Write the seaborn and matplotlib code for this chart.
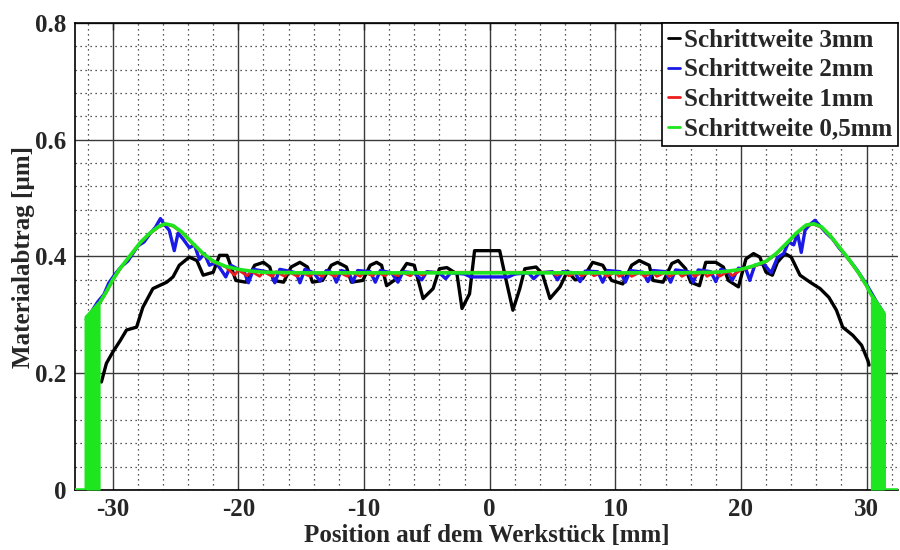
import numpy as np
import pandas as pd
import matplotlib
matplotlib.use("Agg")
import matplotlib.pyplot as plt
from matplotlib.ticker import MultipleLocator, FuncFormatter
import seaborn as sns

# Materialabtrag entlang des Werkstücks für vier Schrittweiten
labels = ["Schrittweite 3mm", "Schrittweite 2mm", "Schrittweite 1mm", "Schrittweite 0,5mm"]
colors = ["#000000", "#1a1ae6", "#ee1c1c", "#1ee61e"]

x_3mm = [-30.9, -30.5, -30.0, -29.4, -28.9, -28.1, -27.6, -26.8, -25.7, -25.2, -24.7, -23.9,
         -23.3, -22.8, -22.0, -21.5, -20.9, -20.2, -19.4, -18.7, -18.0, -17.5, -17.2, -16.4,
         -15.8, -15.1, -14.5, -14.1, -13.3, -12.6, -12.1, -11.4, -11.0, -10.1, -9.5, -9.0,
         -8.6, -8.2, -7.4, -6.6, -6.0, -5.3, -4.5, -4.0, -3.4, -2.6, -2.2, -1.6, -1.2,
         0.8, 1.2, 1.85, 2.4, 2.8, 3.7, 4.2, 4.8, 5.6, 6.2, 6.8, 7.4, 8.2, 9.0, 9.7, 10.6,
         11.3, 11.9, 12.7, 13.0, 13.8, 14.5, 15.0, 15.6, 16.0, 16.7, 17.2, 18.0, 18.6, 19.0,
         19.8, 20.4, 21.0, 21.5, 22.0, 22.5, 22.9, 23.5, 24.0, 24.7, 25.5, 26.3, 27.0, 27.6,
         28.1, 28.9, 29.6, 30.1, 30.2]
y_3mm = [0.185, 0.217, 0.236, 0.256, 0.274, 0.279, 0.313, 0.345, 0.356, 0.365, 0.385, 0.399,
         0.393, 0.368, 0.373, 0.402, 0.402, 0.359, 0.356, 0.385, 0.390, 0.382, 0.359, 0.356,
         0.382, 0.390, 0.382, 0.356, 0.359, 0.385, 0.390, 0.382, 0.356, 0.359, 0.385, 0.390,
         0.385, 0.350, 0.362, 0.388, 0.385, 0.328, 0.345, 0.379, 0.381, 0.370, 0.311, 0.336, 0.410,
         0.410, 0.370, 0.308, 0.345, 0.379, 0.382, 0.370, 0.328, 0.348, 0.375, 0.360, 0.362,
         0.390, 0.385, 0.359, 0.353, 0.385, 0.393, 0.385, 0.359, 0.356, 0.388, 0.393, 0.379,
         0.356, 0.350, 0.390, 0.390, 0.382, 0.359, 0.348, 0.396, 0.405, 0.399, 0.373, 0.368,
         0.390, 0.405, 0.399, 0.368, 0.356, 0.345, 0.330, 0.308, 0.279, 0.265, 0.248, 0.222,
         0.214]

x_2mm = [-32.1, -31.7, -31.2, -30.7, -30.3, -29.8, -29.3, -28.8, -28.4, -28.0, -27.5, -27.0,
         -26.6, -26.2, -25.9, -25.5, -25.1, -24.8, -24.4, -23.9, -23.5, -23.1, -22.7, -22.3,
         -21.8, -21.3, -21.0, -20.6, -20.0, -19.5, -19.2, -18.8, -18.0, -17.4, -17.1, -16.7,
         -16.0, -15.4, -15.1, -14.7, -14.0, -13.5, -13.0, -12.5, -12.2, -11.8, -11.2, -10.9,
         -10.5, -9.5, -9.1, -8.7, -7.8, -7.3, -6.9, -6.0, -5.4, -5.0, -4.0, -3.5, -3.1, -2.0,
         -1.5, 1.5, 2.0, 3.1, 3.5, 4.0, 5.0, 5.4, 5.8, 6.8, 7.2, 7.6, 8.6, 9.0, 9.4, 10.4,
         10.8, 11.2, 12.2, 12.6, 13.0, 14.0, 14.4, 14.8, 15.8, 16.2, 16.6, 17.6, 18.0, 18.4,
         19.0, 19.3, 19.8, 20.4, 20.7, 21.1, 21.8, 22.4, 22.9, 23.4, 23.8, 24.2, 24.5, 24.8,
         25.1, 25.5, 25.9, 26.3, 26.8, 27.3, 27.8, 28.2, 28.7, 29.2, 29.6, 30.0, 30.4, 30.8,
         31.3]
y_2mm = [0.292, 0.305, 0.322, 0.335, 0.355, 0.370, 0.383, 0.392, 0.405, 0.418, 0.425, 0.440,
         0.450, 0.465, 0.455, 0.445, 0.410, 0.440, 0.430, 0.415, 0.420, 0.395, 0.405, 0.385,
         0.390, 0.375, 0.365, 0.385, 0.378, 0.372, 0.355, 0.378, 0.375, 0.372, 0.355, 0.378,
         0.375, 0.372, 0.355, 0.378, 0.372, 0.358, 0.376, 0.372, 0.356, 0.376, 0.372, 0.356,
         0.376, 0.374, 0.356, 0.376, 0.372, 0.356, 0.374, 0.372, 0.360, 0.374, 0.372, 0.362,
         0.372, 0.370, 0.365, 0.365, 0.370, 0.372, 0.362, 0.372, 0.374, 0.360, 0.374, 0.372,
         0.357, 0.375, 0.374, 0.356, 0.376, 0.374, 0.356, 0.376, 0.373, 0.357, 0.376, 0.374,
         0.356, 0.377, 0.374, 0.356, 0.377, 0.374, 0.357, 0.378, 0.374, 0.359, 0.380, 0.378,
         0.359, 0.385, 0.388, 0.372, 0.398, 0.405, 0.425, 0.420, 0.440, 0.407, 0.445, 0.455,
         0.462, 0.452, 0.440, 0.430, 0.415, 0.405, 0.392, 0.378, 0.365, 0.352, 0.337, 0.322,
         0.305]

x_1mm = [-32.1, -31.5, -31.0, -30.5, -30.0, -29.4, -28.6, -27.8, -27.0, -26.3, -25.8, -25.2,
         -24.5, -23.6, -22.8, -22.0, -21.0, -20.3, -20.0, -19.3, -19.0, -18.3, -18.0, -17.3,
         -17.0, -16.3, -16.0, -15.3, -15.0, -14.3, -14.0, -13.3, -13.0, -12.3, -12.0, -11.3,
         -11.0, -10.3, -10.0, -9.3, -9.0, -8.3, -8.0, -7.3, -7.0, -6.3, -6.0, -5.3, -5.0, 5.0,
         5.3, 6.0, 6.3, 7.0, 7.3, 8.0, 8.3, 9.0, 9.3, 10.0, 10.3, 11.0, 11.3, 12.0, 12.3, 13.0,
         13.3, 14.0, 14.3, 15.0, 15.3, 16.0, 16.3, 17.0, 17.3, 18.0, 18.3, 19.0, 19.3, 20.0,
         21.0, 22.0, 22.8, 23.6, 24.4, 25.2, 25.8, 26.4, 27.1, 27.8, 28.6, 29.4, 30.0, 30.4,
         30.9, 31.4]
y_1mm = [0.294, 0.309, 0.321, 0.339, 0.359, 0.379, 0.401, 0.423, 0.440, 0.451, 0.455, 0.452,
         0.441, 0.421, 0.404, 0.391, 0.382, 0.368, 0.377, 0.367, 0.375, 0.366, 0.374, 0.366,
         0.374, 0.366, 0.374, 0.366, 0.373, 0.366, 0.373, 0.366, 0.373, 0.366, 0.373, 0.366,
         0.373, 0.366, 0.373, 0.367, 0.373, 0.367, 0.373, 0.367, 0.373, 0.367, 0.373, 0.368,
         0.373, 0.373, 0.368, 0.373, 0.367, 0.373, 0.367, 0.373, 0.367, 0.373, 0.366, 0.373,
         0.366, 0.373, 0.366, 0.373, 0.366, 0.373, 0.366, 0.373, 0.366, 0.373, 0.366, 0.374,
         0.366, 0.374, 0.366, 0.374, 0.366, 0.375, 0.367, 0.377, 0.383, 0.391, 0.404, 0.421,
         0.439, 0.453, 0.455, 0.450, 0.435, 0.416, 0.394, 0.370, 0.349, 0.333, 0.317, 0.301]

x_05mm = [-33.0, -32.1, -32.1, -31.5, -31.0, -30.5, -30.0, -29.4, -28.6, -27.8, -27.0, -26.3,
          -25.8, -25.2, -24.5, -23.6, -22.8, -22.0, -21.0, -20.0, -19.0, -18.0, -15.0, -10.0,
          -5.0, 0.0, 5.0, 10.0, 15.0, 18.0, 19.0, 20.0, 21.0, 22.0, 22.8, 23.6, 24.4, 25.2,
          25.8, 26.4, 27.1, 27.8, 28.6, 29.4, 30.0, 30.3, 30.9, 31.4, 31.4, 33.0]
y_05mm = [0.0, 0.0, 0.296, 0.310, 0.322, 0.340, 0.360, 0.380, 0.402, 0.424, 0.441, 0.452,
          0.456, 0.453, 0.442, 0.422, 0.405, 0.392, 0.383, 0.378, 0.375, 0.373, 0.372, 0.372,
          0.372, 0.372, 0.372, 0.372, 0.372, 0.373, 0.375, 0.378, 0.384, 0.392, 0.405, 0.422,
          0.440, 0.454, 0.456, 0.451, 0.436, 0.417, 0.395, 0.371, 0.350, 0.337, 0.318, 0.302,
          0.0, 0.0]

# Rand-Bereiche, in denen die 0,5mm-Kurve bis auf null hinunterschwingt
edge_bands = [(-32.1, -31.0), (30.3, 31.4)]

series = [(x_3mm, y_3mm), (x_2mm, y_2mm), (x_1mm, y_1mm), (x_05mm, y_05mm)]
widths = [2.4, 2.4, 2.0, 2.6]

frames = []
for lab, (xs, ys) in zip(labels, series):
    frames.append(pd.DataFrame({"x": xs, "y": ys, "Reihe": lab}))
df = pd.concat(frames, ignore_index=True)

sns.set_theme(style="white")
serif = ["Liberation Serif", "DejaVu Serif"]
plt.rcParams["font.family"] = serif
plt.rcParams["font.weight"] = "bold"
plt.rcParams["axes.unicode_minus"] = False

fig = plt.figure(figsize=(9, 5.5), dpi=100)
ax = fig.add_axes([75 / 900, 1 - 490 / 550, 823 / 900, 467 / 550])

for lab, col, lw in zip(labels, colors, widths):
    sub = df[df["Reihe"] == lab]
    sns.lineplot(data=sub, x="x", y="y", sort=False, estimator=None, color=col,
                 linewidth=lw, ax=ax, label=lab, zorder=3)

# Füllung der Randbereiche der 0,5mm-Kurve
gx = np.array(x_05mm)
gy = np.array(y_05mm)
for lo, hi in edge_bands:
    m = (gx >= lo) & (gx <= hi) & (gy > 0)
    ax.fill_between(gx[m], 0, gy[m], color=colors[3], linewidth=0, zorder=3)

ax.set_xlim(-33, 32.5)
ax.set_ylim(0, 0.8)
ax.xaxis.set_major_locator(MultipleLocator(10))
ax.xaxis.set_minor_locator(MultipleLocator(2))
ax.yaxis.set_major_locator(MultipleLocator(0.2))
ax.yaxis.set_minor_locator(MultipleLocator(0.04))
ax.yaxis.set_major_formatter(FuncFormatter(lambda v, p: f"{v:g}"))
ax.xaxis.set_major_formatter(FuncFormatter(lambda v, p: f"{v:g}"))

ax.grid(which="major", color="#3a3a3a", linestyle="-", linewidth=1.0, zorder=1)
ax.grid(which="minor", color="#222222", linestyle=(0, (1, 3)), linewidth=0.9, zorder=1)
ax.tick_params(which="both", direction="in", labelsize=18, length=5, width=1,
               top=True, right=False, pad=6)
ax.tick_params(which="minor", length=0)
for lab in ax.get_xticklabels() + ax.get_yticklabels():
    lab.set_fontweight("bold")
for s in ax.spines.values():
    s.set_color("black")
    s.set_linewidth(1.2)
ax.spines["right"].set_visible(False)

ax.set_xlabel("Position auf dem Werkstück [mm]", fontsize=18, fontweight="bold", labelpad=2)
ax.set_ylabel("Materialabtrag [µm]", fontsize=18, fontweight="bold", labelpad=0)

leg = ax.legend(loc="upper right", prop={"family": serif, "weight": "bold", "size": 18},
                handlelength=0.5, handletextpad=0.15, labelspacing=0.26, borderpad=0.23,
                borderaxespad=0.0, frameon=True, fancybox=False, framealpha=1)
leg.get_frame().set_edgecolor("black")
leg.get_frame().set_linewidth(1.2)
for h in leg.get_lines():
    h.set_linewidth(2.0)

fig.savefig("out.png", dpi=100)
